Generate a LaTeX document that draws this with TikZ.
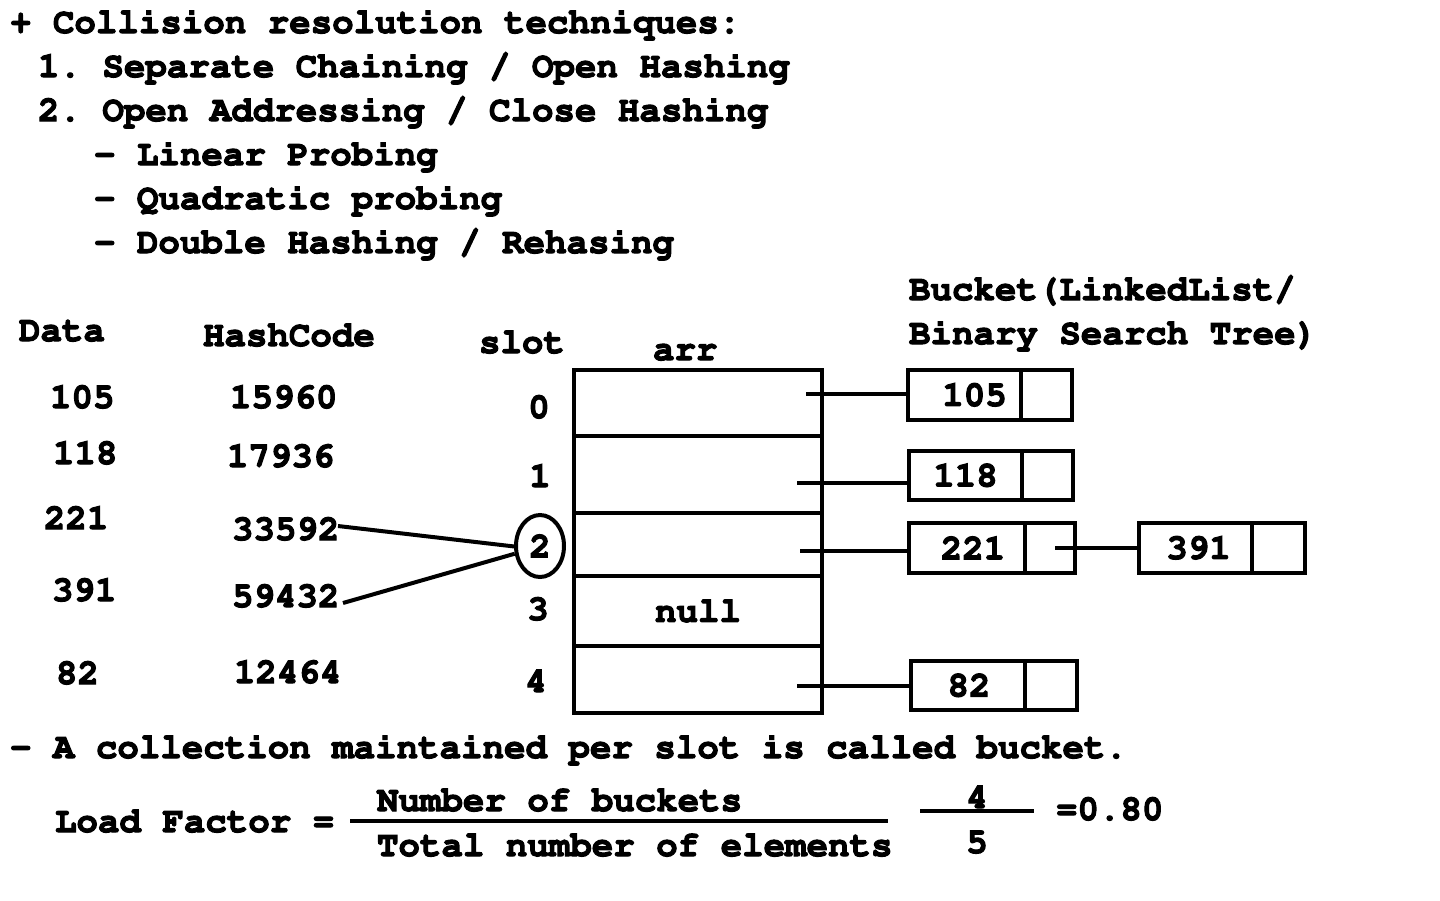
\documentclass[tikz,border=0pt]{standalone}
\usepackage[T1]{fontenc}
\usetikzlibrary{shapes.geometric}
\newcommand\cfnt{\fontfamily{pcr}\fontseries{b}\fontshape{n}\fontsize{35.8}{40}\selectfont\frenchspacing}
\newcommand\heavy[1]{\special{pdf:literal direct 2 Tr 1.1 w}#1\special{pdf:literal direct 0 Tr 3.985 w}}
\begin{document}
\begin{tikzpicture}[x=1pt,y=-1pt,line width=4pt,
  txt/.style={inner sep=0pt,anchor=base west,font=\cfnt},
  ctxt/.style={inner sep=0pt,anchor=base,font=\cfnt},
  cell/.style={draw,line width=4pt,minimum width=248pt,inner sep=0pt,font=\cfnt},
  valcell/.style={draw,line width=4pt,inner sep=0pt,font=\cfnt},
  ptr/.style={line width=4pt}]
\useasboundingbox[fill=white] (0,0) rectangle (1440,900);
% heading text
\node[txt] (t1) at (8,33) {\heavy{+ Collision resolution techniques:}};
\node[txt] (t2) at (36,77) {\heavy{1. Separate Chaining / Open Hashing}};
\node[txt] (t3) at (36,121) {\heavy{2. Open Addressing / Close Hashing}};
\node[txt] (t4) at (92,165) {\heavy{- Linear Probing}};
\node[txt] (t5) at (92,209) {\heavy{- Quadratic probing}};
\node[txt] (t6) at (92,253) {\heavy{- Double Hashing / Rehasing}};
% column headers
\node[txt] (hData) at (17,341) {\heavy{Data}};
\node[txt] (hHash) at (201,346) {\heavy{HashCode}};
\node[txt] (hSlot) at (477,353) {\heavy{slot}};
\node[txt] (hArr) at (651,360) {\heavy{arr}};
\node[txt] (hB1) at (907,300) {\heavy{Bucket(LinkedList/}};
\node[txt] (hB2) at (907,344) {\heavy{Binary Search Tree)}};
% data
\node[txt] (d105) at (48,408) {\heavy{105}};
\node[txt] (d118) at (51,464) {\heavy{118}};
\node[txt] (d221) at (42,529) {\heavy{221}};
\node[txt] (d391) at (50,601) {\heavy{391}};
\node[txt] (d82) at (54,684) {\heavy{82}};
% hash codes
\node[txt] (h15960) at (228,408) {\heavy{15960}};
\node[txt] (h17936) at (225,467) {\heavy{17936}};
\node[txt] (h33592) at (230,540) {\heavy{33592}};
\node[txt] (h59432) at (230,607) {\heavy{59432}};
\node[txt] (h12464) at (232,683) {\heavy{12464}};
% slots
\node[ctxt] (s0) at (539,418) {\heavy{0}};
\node[ctxt] (s1) at (540,487) {\heavy{1}};
\node[draw,ellipse,line width=4pt,minimum width=48pt,minimum height=62pt,inner sep=0pt,
      font=\cfnt] (s2) at (540,546) {\heavy{2}};
\node[ctxt] (s3) at (538,620) {\heavy{3}};
\node[ctxt] (s4) at (536,692) {\heavy{4}};
% array cells
\node[cell,minimum height=66pt] (a0) at (698,403) {};
\node[cell,minimum height=77pt] (a1) at (698,474.5) {};
\node[cell,minimum height=63pt] (a2) at (698,544.5) {};
\node[cell,minimum height=70pt] (a3) at (698,611) {\heavy{null}\hspace{18pt}};
\node[cell,minimum height=67pt] (a4) at (698,679.5) {};
% bucket nodes
\node[valcell,minimum width=113pt,minimum height=50pt] (v105) at (964.5,395) {\hspace{20pt}\heavy{105}};
\node[valcell,minimum width=51pt,minimum height=50pt] (n105) at (1046.5,395) {};
\node[valcell,minimum width=113pt,minimum height=49pt] (v118) at (965.5,475.5) {\heavy{118}};
\node[valcell,minimum width=51pt,minimum height=49pt] (n118) at (1047.5,475.5) {};
\node[valcell,minimum width=116pt,minimum height=50pt] (v221) at (967,548) {\hspace{12pt}\heavy{221}};
\node[valcell,minimum width=50pt,minimum height=50pt] (n221) at (1050,548) {};
\node[valcell,minimum width=113pt,minimum height=50pt] (v391) at (1195.5,548) {\hspace{6pt}\heavy{391}};
\node[valcell,minimum width=53pt,minimum height=50pt] (n391) at (1278.5,548) {};
\node[valcell,minimum width=114pt,minimum height=49pt] (v82) at (968,685.5) {\hspace{2pt}\heavy{82}};
\node[valcell,minimum width=52pt,minimum height=49pt] (n82) at (1051,685.5) {};
% pointer start points
\coordinate (p0) at (806,394);
\coordinate (p1) at (797,483);
\coordinate (p2) at (800,551);
\coordinate (p4) at (797,686);
\coordinate (p221) at (1055,548);
\draw[ptr] (p0) -- (v105.west |- p0);
\draw[ptr] (p1) -- (v118.west |- p1);
\draw[ptr] (p2) -- (v221.west |- p2);
\draw[ptr] (p4) -- (v82.west |- p4);
\draw[ptr] (p221) -- (v391.west);
% hash to slot
\coordinate (e1) at (338,526);
\coordinate (e2) at (343,603);
\draw[ptr] (e1) -- (s2.181);
\draw[ptr] (e2) -- (s2.197);
% bottom text
\node[txt] (b1) at (8,758) {\heavy{- A collection maintained per slot is called bucket.}};
\node[txt] (lf) at (53,832) {\heavy{Load Factor =}};
\node[txt] (num) at (375,811) {\heavy{Number of buckets}};
\node[txt] (den) at (375,856) {\heavy{Total number of elements}};
\draw[ptr] (350,821) -- (888,821);
\node[ctxt] (f4) at (977,808) {\heavy{4}};
\node[ctxt] (f5) at (977,853) {\heavy{5}};
\draw[ptr] (920,811) -- (1034,811);
\node[txt] (res) at (1054,820) {\heavy{=0.80}};
\end{tikzpicture}
\end{document}
